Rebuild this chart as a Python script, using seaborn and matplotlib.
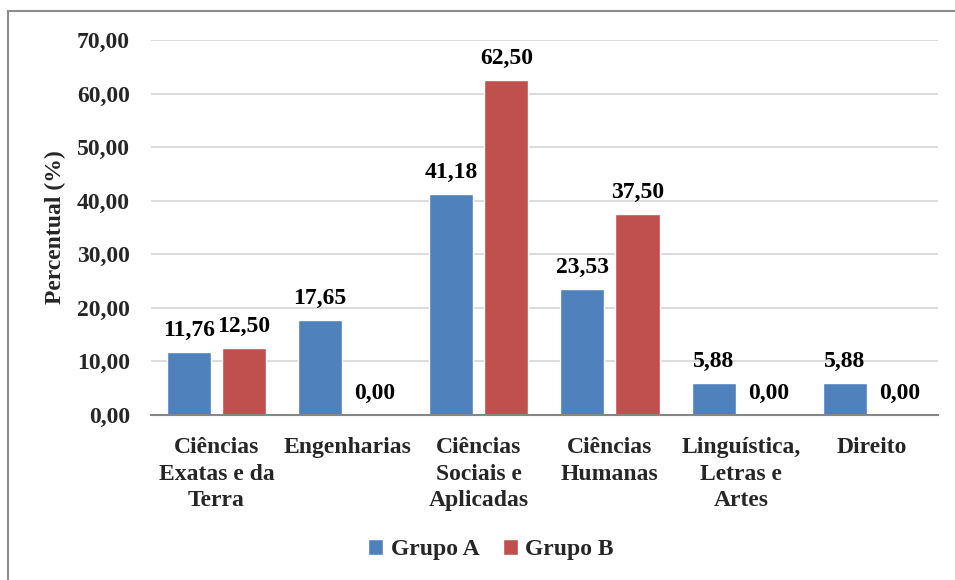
import matplotlib
matplotlib.use("Agg")
import matplotlib.pyplot as plt
from matplotlib.patches import Rectangle
import seaborn as sns
import pandas as pd

categories = ["Ciências\nExatas e da\nTerra", "Engenharias", "Ciências\nSociais e\nAplicadas",
              "Ciências\nHumanas", "Linguística,\nLetras e\nArtes", "Direito"]
grupo_a = [11.76, 17.65, 41.18, 23.53, 5.88, 5.88]
grupo_b = [12.50, 0.00, 62.50, 37.50, 0.00, 0.00]
series = ["Grupo A", "Grupo B"]
colors = ["#4F81BD", "#C0504D"]
yticks = [0, 10, 20, 30, 40, 50, 60, 70]

df = pd.DataFrame({
    "Área": categories * 2,
    "Percentual": grupo_a + grupo_b,
    "Grupo": [series[0]] * len(categories) + [series[1]] * len(categories),
})

sns.set_theme(style="white")
plt.rcParams["font.family"] = ["Liberation Serif", "DejaVu Serif"]
plt.rcParams["font.weight"] = "bold"

FS = 17

fig = plt.figure(figsize=(9.55, 5.8), dpi=100)
ax = fig.add_axes([0.158, 0.2845, 0.824, 0.6465])

sns.barplot(data=df, x="Área", y="Percentual", hue="Grupo", order=categories,
            hue_order=series, palette=colors, width=0.84, gap=0.2,
            saturation=1, ax=ax, legend=True)

fmt = lambda v: f"{v:.2f}".replace(".", ",")
for cont in ax.containers:
    ax.bar_label(cont, labels=[fmt(v) for v in cont.datavalues], padding=8,
                 fontsize=FS, fontweight="bold", color="black")

ax.set_ylim(0, 70)
ax.set_yticks(yticks)
ax.set_yticklabels([fmt(v) for v in yticks], fontsize=FS, fontweight="bold")
ax.set_xlim(-0.5, len(categories) - 0.5)
ax.tick_params(axis="x", labelsize=FS, pad=16, length=0)
ax.tick_params(axis="y", pad=15, length=0)
for lbl in ax.get_xticklabels():
    lbl.set_fontweight("bold")
    lbl.set_linespacing(1.35)
ax.set_xlabel("")
ax.set_ylabel("Percentual (%)", fontsize=FS, fontweight="bold", va="center")
ax.yaxis.set_label_coords(-0.121, 0.5)

ax.yaxis.grid(True, color="#D9D9D9", linewidth=1.3)
ax.set_axisbelow(True)
for side in ["top", "right", "left"]:
    ax.spines[side].set_visible(False)
ax.spines["bottom"].set_color("#868686")
ax.spines["bottom"].set_linewidth(1.5)

handles, labels = ax.get_legend_handles_labels()
ax.legend_.remove()
fig.legend(handles, labels, loc="center", bbox_to_anchor=(0.514, 0.052), ncol=2,
           frameon=False, prop={"size": FS, "weight": "bold"},
           handlelength=0.65, handleheight=0.65, handletextpad=0.3, columnspacing=1.0)

fig.patches.append(Rectangle((8 / 955, -0.2), 1.2, 1.2 - 11 / 580, transform=fig.transFigure,
                             fill=False, edgecolor="#8C8C8C", linewidth=1.5))

fig.savefig("out.png", dpi=100)
